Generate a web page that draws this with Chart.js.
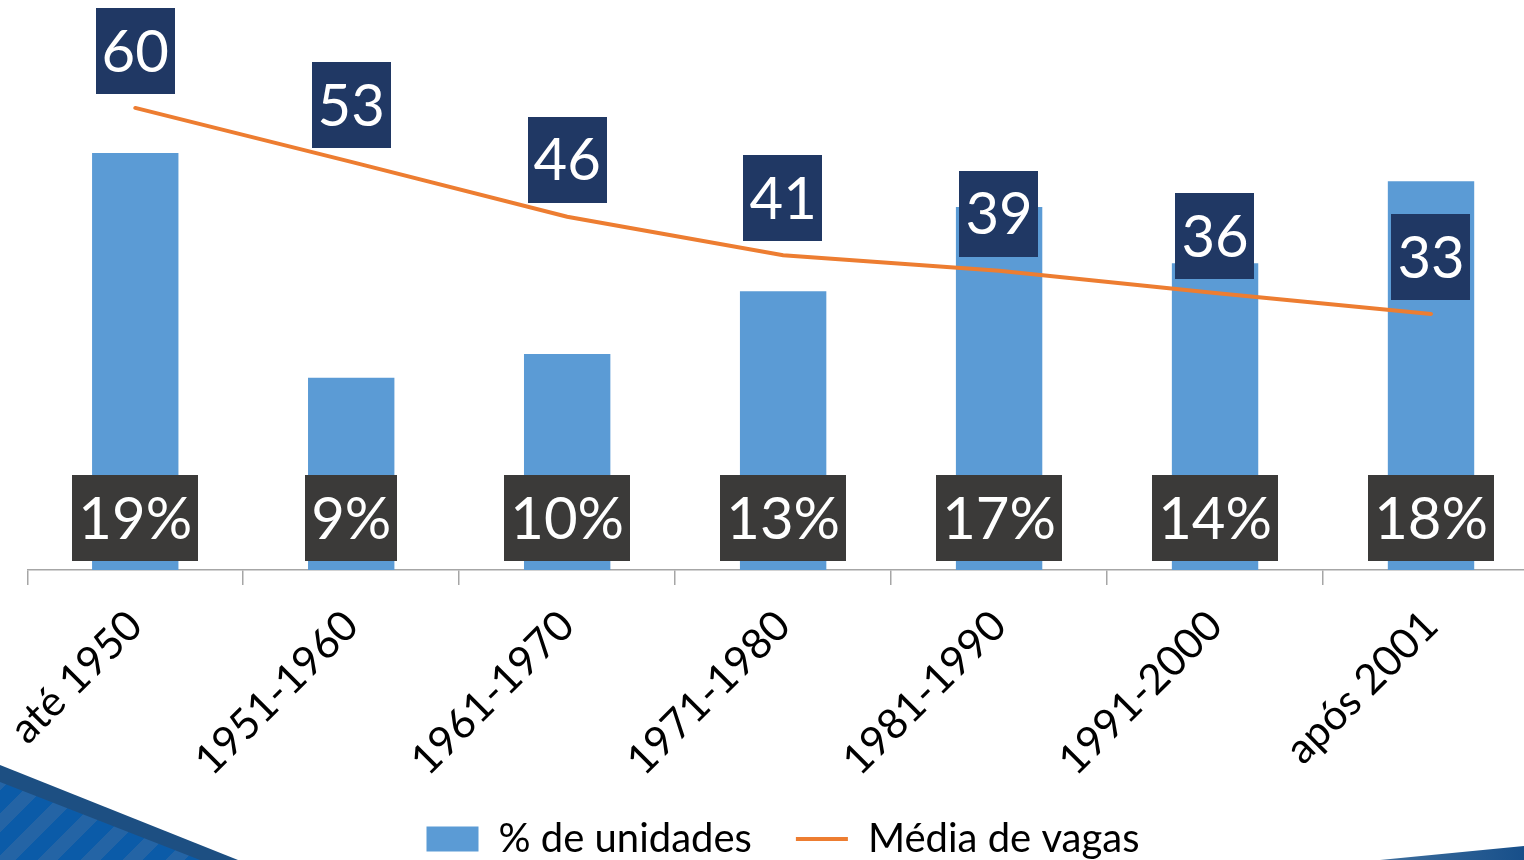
<!DOCTYPE html>
<html lang="pt">
  <head>
    <meta charset="UTF-8" />
    <title>Unidades por período de construção</title>
    <script src="https://cdn.jsdelivr.net/npm/chart.js"></script>
    <style>
      html,
      body {
        margin: 0;
        padding: 0;
        width: 1524px;
        height: 860px;
        overflow: hidden;
        background: #ffffff;
      }
      .deco {
        position: absolute;
        pointer-events: none;
      }
      .deco-left-band {
        left: 0;
        top: 760px;
        width: 250px;
        height: 100px;
        clip-path: polygon(0 5px, 238px 100px, 0 100px);
        background: #1d4f82;
      }
      .deco-left {
        left: 0;
        top: 760px;
        width: 250px;
        height: 100px;
        clip-path: polygon(0 22px, 200px 100px, 0 100px);
        background: repeating-linear-gradient(
          -45deg,
          #0b5ba8 0 16px,
          #2464a5 16px 30px
        );
      }
      .deco-right {
        left: 1380px;
        top: 840px;
        width: 144px;
        height: 20px;
        clip-path: polygon(0 20px, 144px 6px, 144px 20px);
        background: linear-gradient(90deg, #3f6f9e, #174f8a);
      }
      #wrap {
        position: absolute;
        left: 0;
        top: 0;
        width: 1560px;
        height: 869px;
      }
    </style>
  </head>
  <body>
    <div class="deco deco-left-band"></div>
    <div class="deco deco-left"></div>
    <div class="deco deco-right"></div>
    <div id="wrap"><canvas id="chart"></canvas></div>

    <script>
      const categories = [
        "até 1950",
        "1951-1960",
        "1961-1970",
        "1971-1980",
        "1981-1990",
        "1991-2000",
        "após 2001",
      ];
      // % de unidades
      const unitShare = [19.3, 8.9, 10.0, 12.9, 16.8, 14.2, 18.0];
      // média de vagas
      const avgSpaces = [59.9, 52.9, 45.8, 40.8, 38.8, 35.9, 33.2];

      const seriesNames = ["% de unidades", "Média de vagas"];

      Chart.defaults.font.family = "Lato, 'Open Sans', sans-serif";

      function drawTag(ctx, text, x, cy, color) {
        const w = ctx.measureText(text).width + 12;
        const h = 86;
        ctx.fillStyle = color;
        ctx.fillRect(Math.round(x - w / 2), Math.round(cy - h / 2), Math.round(w), h);
        ctx.fillStyle = "#ffffff";
        ctx.fillText(text, x, cy + 2);
      }

      // value boxes: bar ones sit at the base, line ones float above the points
      const valueTags = {
        id: "valueTags",
        afterDatasetsDraw(chart) {
          const ctx = chart.ctx;
          const area = chart.chartArea;
          ctx.save();
          ctx.font = "58px Lato, 'Open Sans', sans-serif";
          ctx.textAlign = "center";
          ctx.textBaseline = "middle";
          chart.getDatasetMeta(1).data.forEach((bar, i) => {
            drawTag(ctx, Math.round(unitShare[i]) + "%", bar.x, area.bottom - 52, "#3b3a39");
          });
          chart.getDatasetMeta(0).data.forEach((pt, i) => {
            drawTag(ctx, String(Math.round(avgSpaces[i])), pt.x, pt.y - 57, "#203864");
          });
          ctx.restore();
        },
      };

      function createChart() {
        const ctx = document.getElementById("chart").getContext("2d");

        new Chart(ctx, {
          data: {
            labels: categories,
            datasets: [
              {
                type: "line",
                label: seriesNames[1],
                data: avgSpaces,
                yAxisID: "y1",
                borderColor: "#ed7d31",
                backgroundColor: "#ed7d31",
                borderWidth: 4,
                borderCapStyle: "round",
                tension: 0,
                pointRadius: 0,
                pointHoverRadius: 0,
                pointStyle: "line",
                order: 0,
              },
              {
                type: "bar",
                label: seriesNames[0],
                data: unitShare,
                yAxisID: "y",
                backgroundColor: "#5b9bd5",
                borderWidth: 0,
                barPercentage: 0.4,
                categoryPercentage: 1.0,
                pointStyle: "rect",
                order: 1,
              },
            ],
          },
          options: {
            responsive: true,
            maintainAspectRatio: false,
            animation: false,
            layout: {
              padding: { top: 30, left: 27, right: 21, bottom: 0 },
            },
            plugins: {
              tooltip: { enabled: false },
              legend: {
                position: "bottom",
                labels: {
                  usePointStyle: true,
                  pointStyleWidth: 52,
                  boxHeight: 25,
                  padding: 44,
                  color: "#000000",
                  font: { size: 40 },
                  sort: (a, b) => b.datasetIndex - a.datasetIndex,
                },
              },
            },
            scales: {
              x: {
                offset: true,
                grid: {
                  offset: true,
                  drawOnChartArea: false,
                  drawTicks: true,
                  tickLength: 15,
                  color: "#a6a6a6",
                  lineWidth: 1.5,
                },
                border: { display: true, color: "#a6a6a6", width: 1.5 },
                ticks: {
                  autoSkip: false,
                  minRotation: 45,
                  maxRotation: 45,
                  padding: 16,
                  color: "#000000",
                  font: { size: 42 },
                },
                afterFit: (scale) => {
                  scale.height = 205;
                },
              },
              y: { display: false, min: 0, max: 25 },
              y1: { display: false, min: 0, max: 70 },
            },
          },
          plugins: [valueTags],
        });
      }

      document.addEventListener("DOMContentLoaded", createChart);
    </script>
  </body>
</html>
